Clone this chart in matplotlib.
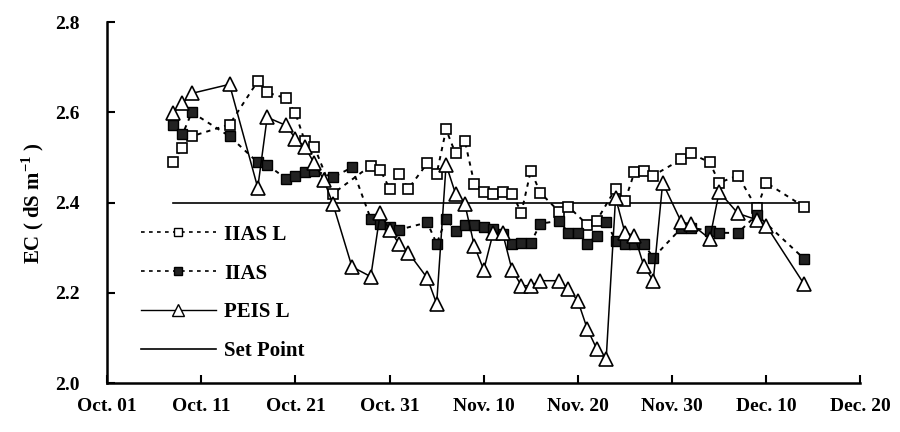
import matplotlib
matplotlib.use("Agg")
import matplotlib.pyplot as plt
from matplotlib.lines import Line2D

plt.rcParams['font.family'] = ['Liberation Serif', 'DejaVu Serif']
plt.rcParams['font.weight'] = 'bold'
plt.rcParams['mathtext.fontset'] = 'custom'
plt.rcParams['mathtext.rm'] = 'Liberation Serif'
plt.rcParams['mathtext.bf'] = 'Liberation Serif:bold'

# day offsets from Oct. 01
iiasl_days = [7, 8, 9, 13, 16, 17, 19, 20, 21, 22, 24, 28, 29, 30, 31, 32, 34, 35, 36, 37,
              38, 39, 40, 41, 42, 43, 44, 45, 46, 48, 49, 51, 52, 54, 55, 56, 57, 58, 61, 62,
              64, 65, 67, 69, 70, 74]
iiasl_vals = [2.491, 2.522, 2.547, 2.573, 2.669, 2.644, 2.631, 2.598, 2.536, 2.524, 2.420,
              2.482, 2.473, 2.431, 2.464, 2.431, 2.487, 2.464, 2.562, 2.509, 2.536, 2.442,
              2.424, 2.418, 2.424, 2.420, 2.378, 2.471, 2.422, 2.380, 2.391, 2.351, 2.360,
              2.431, 2.404, 2.467, 2.469, 2.460, 2.496, 2.509, 2.489, 2.444, 2.460, 2.387,
              2.444, 2.391]

iias_days = [7, 8, 9, 13, 16, 17, 19, 20, 21, 22, 24, 26, 28, 29, 30, 31, 34, 35, 36, 37,
             38, 39, 40, 41, 42, 43, 44, 45, 46, 48, 49, 50, 51, 52, 53, 54, 55, 56, 57, 58,
             61, 62, 64, 65, 67, 69, 74]
iias_vals = [2.571, 2.551, 2.600, 2.547, 2.489, 2.484, 2.453, 2.460, 2.467, 2.471, 2.456,
             2.478, 2.364, 2.353, 2.347, 2.340, 2.356, 2.309, 2.364, 2.338, 2.351, 2.351,
             2.347, 2.342, 2.331, 2.309, 2.311, 2.311, 2.353, 2.360, 2.333, 2.333, 2.309,
             2.327, 2.358, 2.316, 2.309, 2.309, 2.309, 2.278, 2.344, 2.344, 2.338, 2.333,
             2.333, 2.373, 2.276]

peisl_days = [7, 8, 9, 13, 16, 17, 19, 20, 21, 22, 23, 24, 26, 28, 29, 30, 31, 32, 34, 35,
              36, 37, 38, 39, 40, 41, 42, 43, 44, 45, 46, 48, 49, 50, 51, 52, 53, 54, 55, 56,
              57, 58, 59, 61, 62, 64, 65, 67, 69, 70, 74]
peisl_vals = [2.598, 2.620, 2.642, 2.662, 2.433, 2.589, 2.571, 2.542, 2.524, 2.487, 2.451,
              2.396, 2.258, 2.236, 2.376, 2.340, 2.309, 2.289, 2.233, 2.176, 2.484, 2.420,
              2.396, 2.304, 2.251, 2.333, 2.333, 2.251, 2.216, 2.216, 2.227, 2.227, 2.209,
              2.182, 2.120, 2.076, 2.053, 2.411, 2.333, 2.327, 2.260, 2.227, 2.444, 2.356,
              2.353, 2.320, 2.424, 2.376, 2.362, 2.349, 2.220]

setpoint_days = [7, 74]
setpoint_vals = [2.4, 2.4]

xtick_days = [0, 10, 20, 30, 40, 50, 60, 70, 80]
xtick_labels = ['Oct. 01', 'Oct. 11', 'Oct. 21', 'Oct. 31', 'Nov. 10',
                'Nov. 20', 'Nov. 30', 'Dec. 10', 'Dec. 20']
ytick_vals = [2.0, 2.2, 2.4, 2.6, 2.8]
ytick_labels = ['2.0', '2.2', '2.4', '2.6', '2.8']

fig = plt.figure(figsize=(9, 4.32), dpi=100)
ax = fig.add_axes([0.119, 0.113, 0.837, 0.836])

dot = (0, (2.2, 2.6))
ax.plot(setpoint_days, setpoint_vals, color='black', lw=1.2, label='Set Point', zorder=1)
ax.plot(iiasl_days, iiasl_vals, linestyle=dot, color='black', lw=1.4,
        marker='s', markersize=7, markerfacecolor='white', markeredgecolor='black',
        markeredgewidth=1.2, label='IIAS L', zorder=3)
ax.plot(iias_days, iias_vals, linestyle=dot, color='black', lw=1.4,
        marker='s', markersize=7, markerfacecolor='#222222', markeredgecolor='black',
        markeredgewidth=1.0, label='IIAS', zorder=3)
ax.plot(peisl_days, peisl_vals, linestyle='-', color='black', lw=1.1,
        marker='^', markersize=10, markerfacecolor='white', markeredgecolor='black',
        markeredgewidth=1.2, label='PEIS L', zorder=4)

ax.set_xlim(0, 80)
ax.set_ylim(2.0, 2.8)
ax.set_xticks(xtick_days)
ax.set_xticklabels(xtick_labels)
ax.set_yticks(ytick_vals)
ax.set_yticklabels(ytick_labels)
ax.tick_params(direction='in', length=6, width=1.5, labelsize=14, pad=11)
ax.tick_params(axis='y', pad=20)
for lab in ax.get_xticklabels() + ax.get_yticklabels():
    lab.set_fontweight('bold')
ax.spines['top'].set_visible(False)
ax.spines['right'].set_visible(False)
ax.spines['left'].set_linewidth(1.8)
ax.spines['bottom'].set_linewidth(1.8)

ax.set_ylabel(r'EC ( dS m$^{\mathbf{-1}}$ )', fontsize=15, fontweight='bold', labelpad=6)

handles = [
    Line2D([], [], linestyle=dot, color='black', lw=1.2, marker='s', markersize=6,
           markerfacecolor='white', markeredgecolor='black'),
    Line2D([], [], linestyle=dot, color='black', lw=1.2, marker='s', markersize=6,
           markerfacecolor='#222222', markeredgecolor='black'),
    Line2D([], [], linestyle='-', color='black', lw=1.0, marker='^', markersize=8,
           markerfacecolor='white', markeredgecolor='black'),
    Line2D([], [], linestyle='-', color='black', lw=1.2),
]
leg = ax.legend(handles, ['IIAS L', 'IIAS', 'PEIS L', 'Set Point'],
                loc='center left', bbox_to_anchor=(0.02, 0.25), frameon=False,
                handlelength=3.6, handletextpad=0.4, labelspacing=0.9,
                prop={'family': 'Liberation Serif', 'weight': 'bold', 'size': 15})

fig.savefig('out.png', dpi=100)
